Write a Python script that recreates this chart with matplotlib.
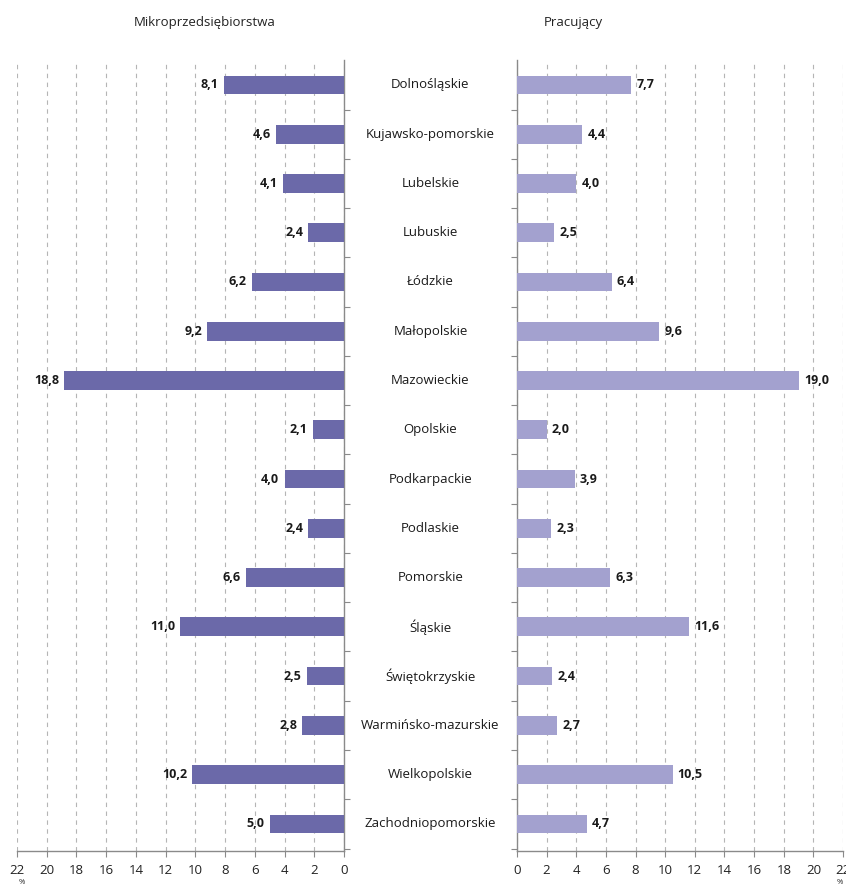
import matplotlib.pyplot as plt
import numpy as np

plt.rcParams['font.family'] = ['Open Sans', 'DejaVu Sans']

regions = ['Dolnośląskie', 'Kujawsko-pomorskie', 'Lubelskie', 'Lubuskie', 'Łódzkie',
           'Małopolskie', 'Mazowieckie', 'Opolskie', 'Podkarpackie', 'Podlaskie',
           'Pomorskie', 'Śląskie', 'Świętokrzyskie', 'Warmińsko-mazurskie',
           'Wielkopolskie', 'Zachodniopomorskie']
mikro = [8.1, 4.6, 4.1, 2.4, 6.2, 9.2, 18.8, 2.1, 4.0, 2.4, 6.6, 11.0, 2.5, 2.8, 10.2, 5.0]
pracujacy = [7.7, 4.4, 4.0, 2.5, 6.4, 9.6, 19.0, 2.0, 3.9, 2.3, 6.3, 11.6, 2.4, 2.7, 10.5, 4.7]
ticks = list(range(0, 23, 2))

col_left = '#6b69a9'
col_right = '#a3a1cf'
axis_col = '#8a8a8a'

fig = plt.figure(figsize=(8.46, 8.86), dpi=100)
axl = fig.add_axes([0.020, 0.0395, 0.3866, 0.8925])
axr = fig.add_axes([0.611, 0.0395, 0.3856, 0.8925])

y = np.arange(len(regions))


def fmt(v):
    return f'{v:.1f}'.replace('.', ',')


for ax, vals, col in [(axl, mikro, col_left), (axr, pracujacy, col_right)]:
    ax.barh(y, vals, height=0.38, color=col, zorder=3)
    ax.set_xlim(0, 22)
    ax.set_ylim(15.55, -0.5)
    ax.set_xticks(ticks)
    ax.set_xticklabels([str(t) for t in ticks], fontsize=9.5, color='#222222')
    ax.xaxis.grid(True, linestyle=(0, (4, 4)), color='#b5b5b5', linewidth=0.8, zorder=0)
    ax.set_yticks([])
    ax.set_yticks(np.arange(0.5, 15.6, 1), minor=True)
    ax.tick_params(axis='y', which='minor', length=4, color=axis_col, width=0.8)
    ax.tick_params(axis='x', length=4, color=axis_col, width=0.8, pad=5)
    ax.spines['top'].set_visible(False)
    for s in ['bottom', 'left', 'right']:
        ax.spines[s].set_color(axis_col)
        ax.spines[s].set_linewidth(1.0)
    for i, v in enumerate(vals):
        ax.text(v + 0.35, i, fmt(v), va='center', ha='left', fontsize=9,
                fontweight='bold', color='#1a1a1a')

# left panel mirrored
axl.invert_xaxis()
axl.spines['left'].set_visible(False)
axl.yaxis.set_ticks_position('right')
axl.tick_params(axis='y', which='minor', right=True, left=False)
for t in axl.texts:
    t.set_ha('right')

axr.spines['right'].set_visible(False)
axr.yaxis.set_ticks_position('left')

# unit signs under the outer ticks
fig.text(0.026, 0.0, '%', fontsize=5.5, ha='center', va='bottom', color='#222222')
fig.text(0.9965, 0.0, '%', fontsize=5.5, ha='right', va='bottom', color='#222222')

# region labels in the middle
for i, r in enumerate(regions):
    axl.annotate(r, xy=(1.0, i), xycoords=('axes fraction', 'data'),
                 xytext=(0.5 * (0.611 - 0.4066) * 846, 0), textcoords='offset pixels',
                 ha='center', va='center', fontsize=9.5, color='#1a1a1a',
                 annotation_clip=False)

fig.text(0.242, 0.975, 'Mikroprzedsiębiorstwa', ha='center', va='center', fontsize=9.5,
         color='#222222')
fig.text(0.678, 0.975, 'Pracujący', ha='center', va='center', fontsize=9.5,
         color='#222222')

fig.savefig('out.png', dpi=100)
